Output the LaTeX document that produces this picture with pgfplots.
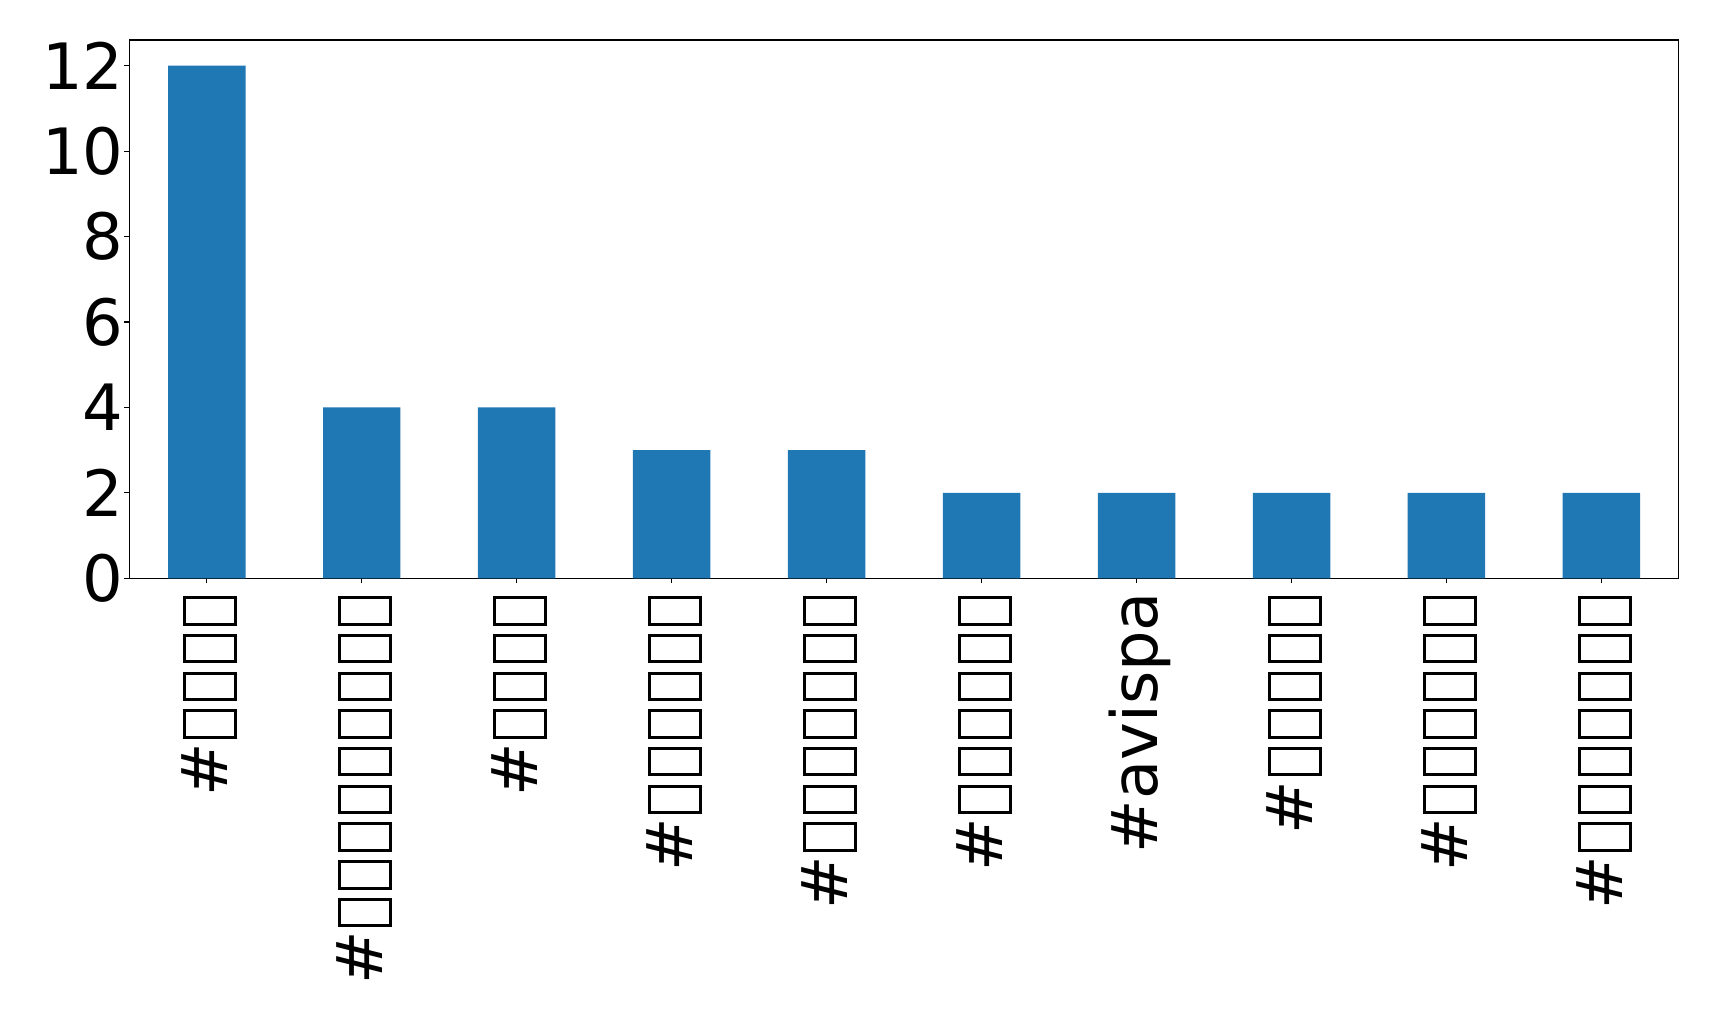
\documentclass[border=0pt]{standalone}
\usepackage{pgfplots}
\pgfplotsset{compat=1.18}
\usepackage{fontspec}
\setmainfont{DejaVu Sans}
\newlength\px
\setlength\px{0.72pt}
\definecolor{mplblue}{HTML}{1F77B4}
\newcommand\tofu{\kern4.1\px\lower9.6\px\hbox{\vrule width 3\px\vbox to 54.3\px{\hrule height 3\px width 23.5\px\vfil\hrule height 3\px width 23.5\px}\vrule width 3\px}\kern4.1\px}
\begin{document}
\fontsize{46}{55}\selectfont
\begin{tikzpicture}
\path[use as bounding box] (-129.3\px,-439.7\px) rectangle (1589.7\px,578.3\px);
\begin{axis}[
  at={(0,0)}, anchor=south west,
  scale only axis,
  width=1549.7\px, height=538.3\px,
  xmin=-0.5, xmax=9.5, ymin=0, ymax=12.6,
  axis line style={line width=0.8pt},
  every tick/.style={black, line width=0.8pt},
  tick align=outside,
  major tick length=3.5pt,
  xtick={0,1,2,3,4,5,6,7,8,9},
  ytick={0,2,4,6,8,10,12},
  xtick pos=bottom, ytick pos=left,
  xticklabels={
    \#\tofu\tofu\tofu\tofu,
    \#\tofu\tofu\tofu\tofu\tofu\tofu\tofu\tofu\tofu,
    \#\tofu\tofu\tofu\tofu,
    \#\tofu\tofu\tofu\tofu\tofu\tofu,
    \#\tofu\tofu\tofu\tofu\tofu\tofu\tofu,
    \#\tofu\tofu\tofu\tofu\tofu\tofu,
    \#avispa,
    \#\tofu\tofu\tofu\tofu\tofu,
    \#\tofu\tofu\tofu\tofu\tofu\tofu,
    \#\tofu\tofu\tofu\tofu\tofu\tofu\tofu},
  xticklabel style={rotate=90, anchor=east, inner ysep=0pt, inner xsep=6.2pt, text height=0.93em, text depth=0.27em, font=\fontsize{46}{55}\selectfont},
  yticklabel style={anchor=east, inner ysep=0pt, inner xsep=0.6pt, font=\fontsize{46}{55}\selectfont},
  /pgf/number format/assume math mode=true,
  ybar, bar width=0.5,
]
\addplot[fill=mplblue, draw=none] coordinates {
  (0,12) (1,4) (2,4) (3,3) (4,3) (5,2) (6,2) (7,2) (8,2) (9,2)};
\end{axis}
\end{tikzpicture}
\end{document}
